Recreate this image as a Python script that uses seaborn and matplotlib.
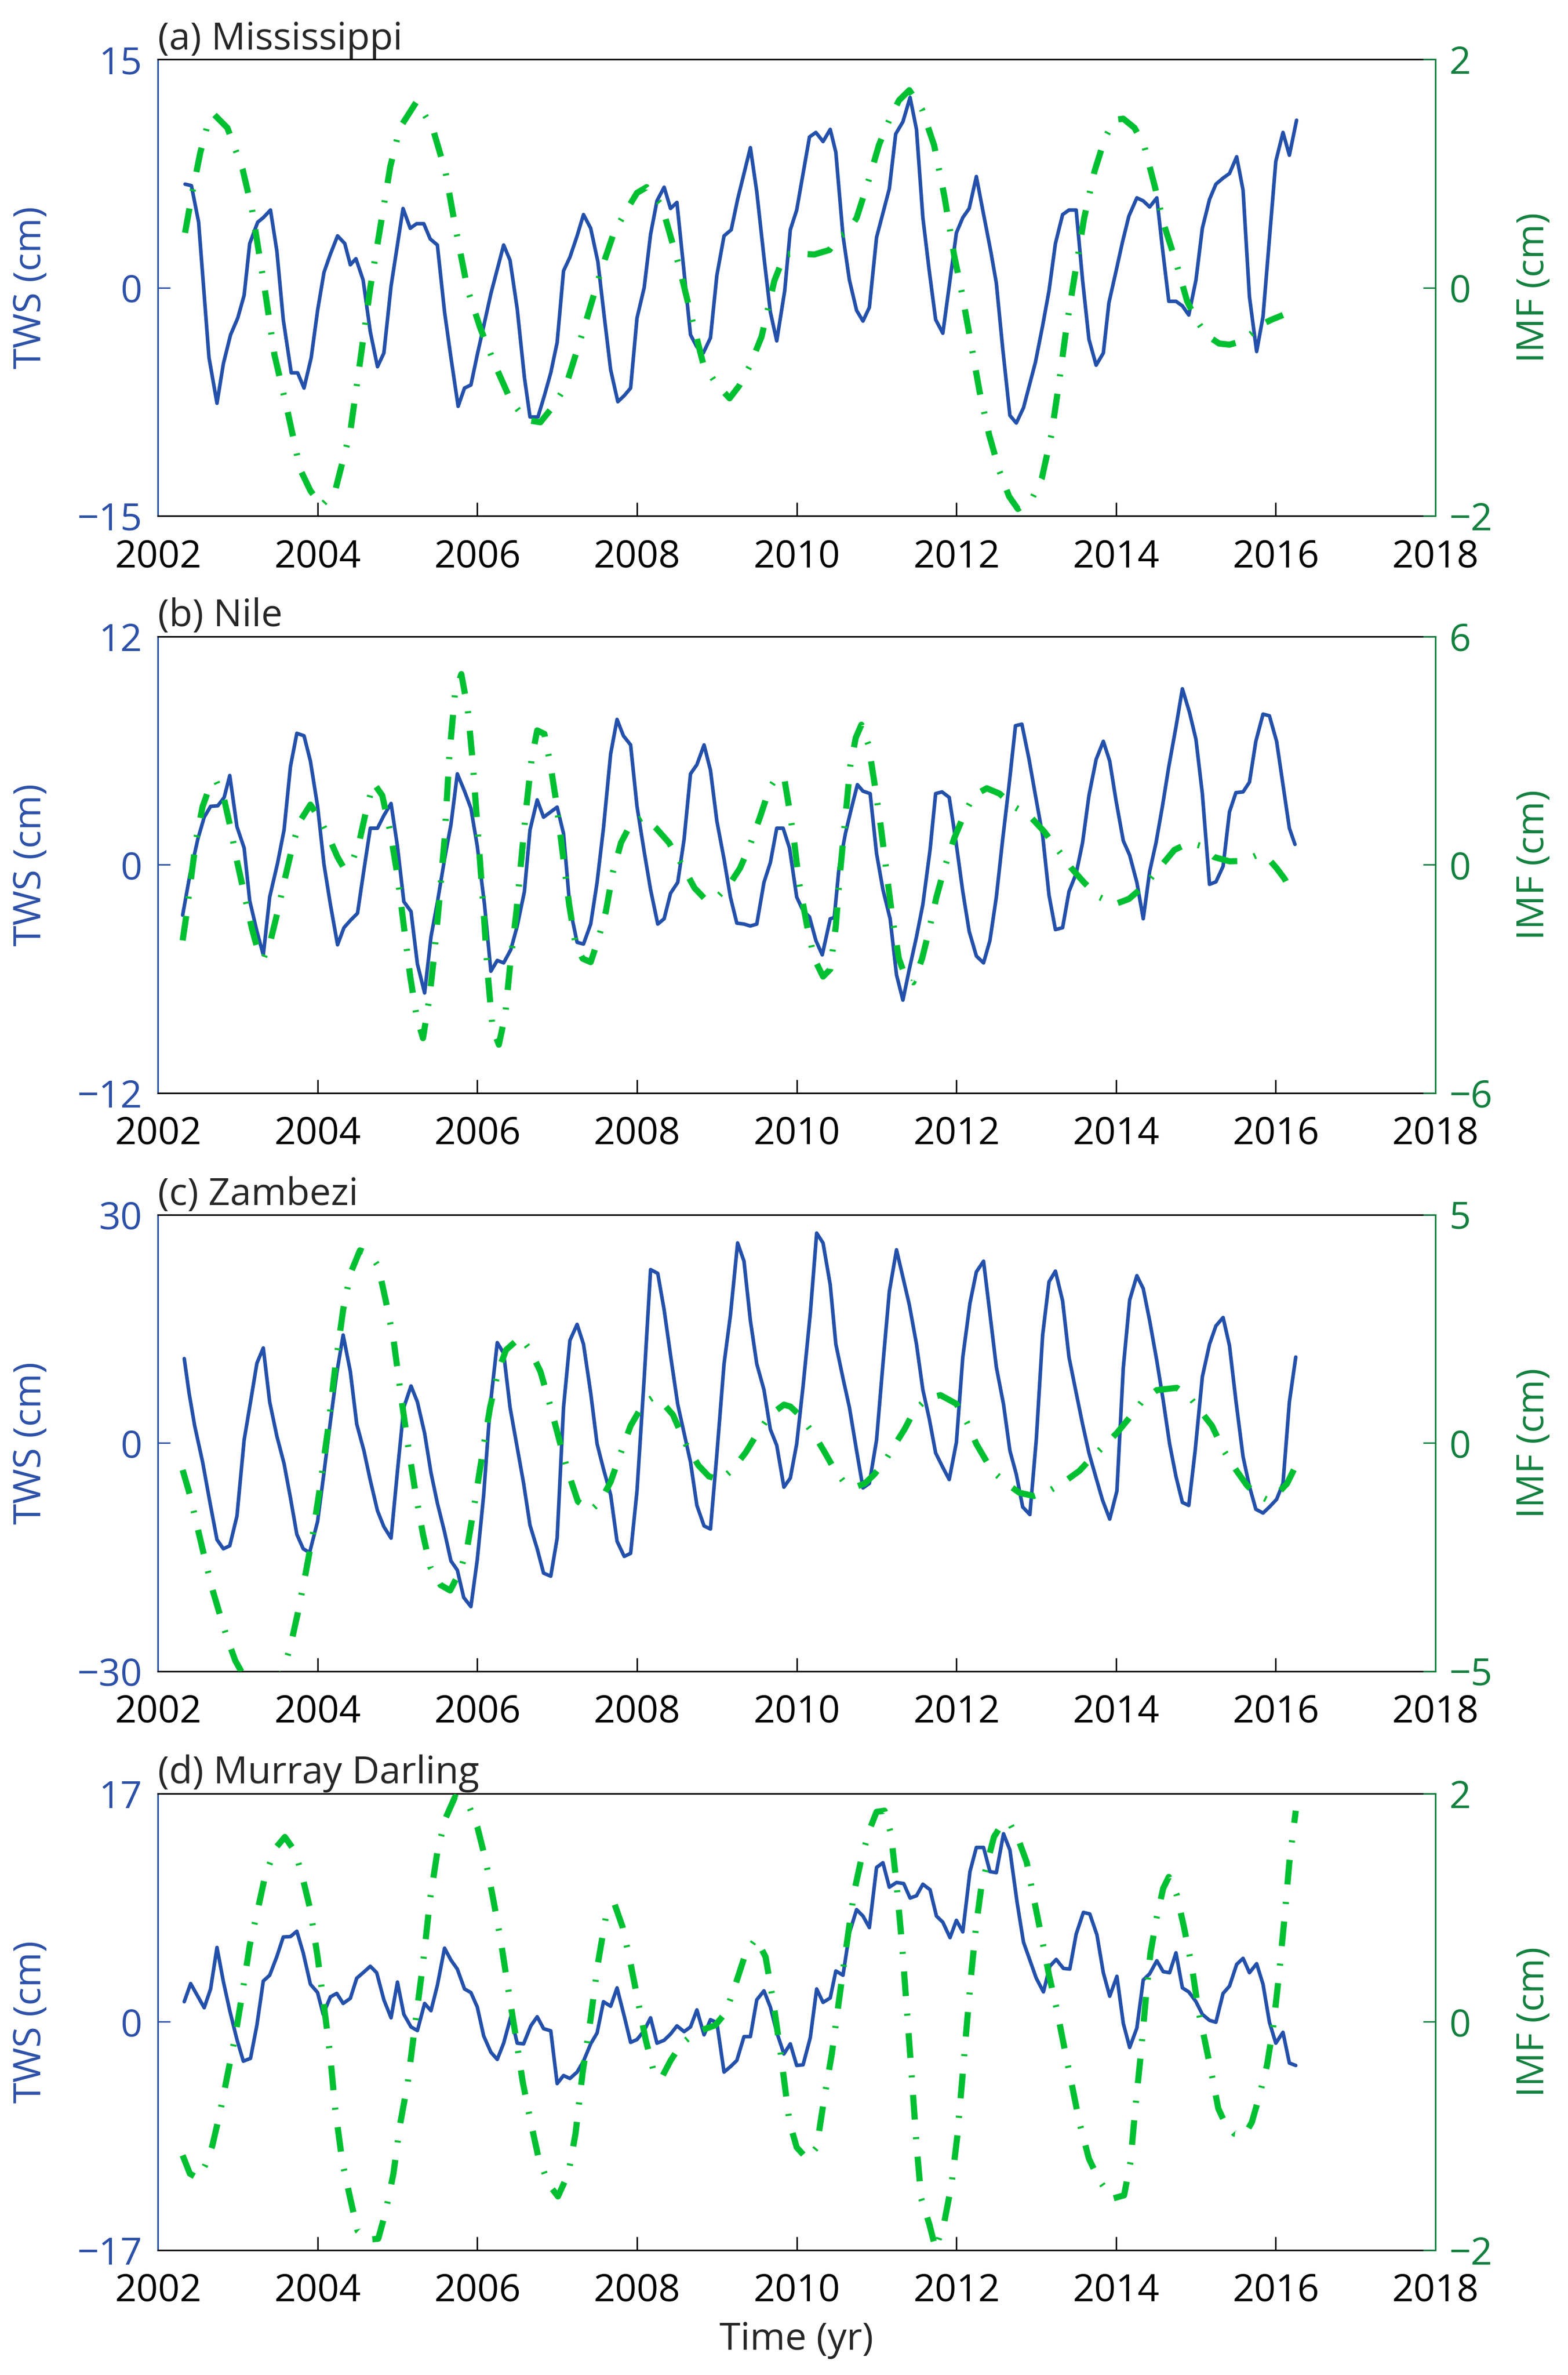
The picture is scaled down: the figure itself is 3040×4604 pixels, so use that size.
import matplotlib
matplotlib.use("Agg")
import matplotlib.pyplot as plt
import seaborn as sns

# ---- (a) Mississippi ----
miss_t = [2002.34, 2002.42, 2002.51, 2002.64, 2002.74, 2002.82, 2002.91, 2003.00, 2003.08, 2003.15,
          2003.25, 2003.32, 2003.41, 2003.49, 2003.57, 2003.67, 2003.75, 2003.83, 2003.92, 2004.00,
          2004.08, 2004.16, 2004.25, 2004.34, 2004.41, 2004.48, 2004.57, 2004.66, 2004.75, 2004.83,
          2004.92, 2005.07, 2005.16, 2005.24, 2005.33, 2005.41, 2005.50, 2005.59, 2005.67, 2005.76,
          2005.84, 2005.92, 2006.00, 2006.09, 2006.17, 2006.25, 2006.33, 2006.41, 2006.50, 2006.59,
          2006.66, 2006.76, 2006.84, 2006.92, 2007.00, 2007.08, 2007.16, 2007.25, 2007.33, 2007.42,
          2007.51, 2007.59, 2007.67, 2007.76, 2007.84, 2007.92, 2008.00, 2008.09, 2008.17, 2008.25,
          2008.34, 2008.42, 2008.50, 2008.59, 2008.67, 2008.75, 2008.83, 2008.92, 2009.00, 2009.09,
          2009.18, 2009.26, 2009.42, 2009.50, 2009.59, 2009.67, 2009.75, 2009.85, 2009.92, 2010.00,
          2010.16, 2010.24, 2010.33, 2010.42, 2010.49, 2010.58, 2010.66, 2010.75, 2010.83, 2010.91,
          2011.00, 2011.08, 2011.16, 2011.24, 2011.33, 2011.42, 2011.50, 2011.58, 2011.66, 2011.74,
          2011.83, 2012.00, 2012.08, 2012.16, 2012.25, 2012.33, 2012.43, 2012.50, 2012.58, 2012.67,
          2012.75, 2012.84, 2012.91, 2012.99, 2013.08, 2013.16, 2013.24, 2013.33, 2013.41, 2013.50,
          2013.58, 2013.66, 2013.75, 2013.84, 2013.91, 2014.00, 2014.08, 2014.16, 2014.26, 2014.34,
          2014.42, 2014.51, 2014.58, 2014.66, 2014.75, 2014.83, 2014.91, 2015.00, 2015.08, 2015.17,
          2015.25, 2015.34, 2015.42, 2015.51, 2015.59, 2015.67, 2015.76, 2015.84, 2016.00, 2016.09,
          2016.17, 2016.26]
miss_tws = [6.8, 6.7, 4.3, -4.6, -7.6, -5.0, -3.1, -2.0, -0.5, 2.9,
            4.3, 4.6, 5.1, 2.4, -2.1, -5.6, -5.6, -6.6, -4.6, -1.5,
            1.0, 2.2, 3.4, 2.9, 1.5, 1.9, 0.5, -2.9, -5.2, -4.3,
            0.1, 5.2, 3.9, 4.2, 4.2, 3.2, 2.8, -1.6, -4.6, -7.8,
            -6.6, -6.4, -4.4, -2.3, -0.4, 1.2, 2.8, 1.8, -1.4, -5.9,
            -8.5, -8.5, -7.1, -5.6, -3.6, 1.1, 2.0, 3.4, 4.8, 3.9,
            1.7, -1.9, -5.4, -7.5, -7.1, -6.6, -2.0, 0.0, 3.5, 5.7,
            6.6, 5.2, 5.6, 1.0, -3.1, -3.9, -4.3, -3.3, 0.8, 3.4,
            3.8, 5.8, 9.2, 6.3, 2.0, -1.6, -3.5, -0.2, 3.8, 5.1,
            9.9, 10.2, 9.6, 10.4, 8.9, 3.4, 0.5, -1.5, -2.2, -1.3,
            3.3, 4.9, 6.5, 10.1, 10.9, 12.5, 10.4, 4.6, 1.1, -2.1,
            -3.0, 3.6, 4.6, 5.2, 7.3, 5.1, 2.4, 0.3, -4.0, -8.4,
            -8.9, -7.9, -6.5, -4.9, -2.5, -0.2, 2.9, 4.8, 5.1, 5.1,
            0.5, -3.4, -5.1, -4.3, -1.0, 1.1, 3.0, 4.7, 5.9, 5.7,
            5.3, 5.9, 2.6, -0.9, -0.9, -1.2, -1.8, 0.5, 3.9, 5.8,
            6.8, 7.2, 7.5, 8.6, 6.4, -0.6, -4.2, -1.9, 8.3, 10.2,
            8.7, 11.0]
miss_imf_t = [2002.34, 2002.43, 2002.53, 2002.62, 2002.70, 2002.87, 2003.06, 2003.18, 2003.34, 2003.46,
              2003.62, 2003.78, 2003.91, 2004.05, 2004.22, 2004.41, 2004.53, 2004.66, 2004.79, 2004.91,
              2005.03, 2005.24, 2005.44, 2005.60, 2005.72, 2005.88, 2006.04, 2006.23, 2006.42, 2006.61,
              2006.79, 2006.95, 2007.11, 2007.33, 2007.55, 2007.71, 2007.87, 2008.00, 2008.12, 2008.31,
              2008.53, 2008.69, 2008.83, 2009.00, 2009.16, 2009.28, 2009.41, 2009.56, 2009.72, 2009.85,
              2010.00, 2010.22, 2010.41, 2010.53, 2010.63, 2010.75, 2010.91, 2011.03, 2011.16, 2011.28,
              2011.41, 2011.57, 2011.72, 2011.85, 2011.97, 2012.07, 2012.16, 2012.29, 2012.41, 2012.54,
              2012.66, 2012.77, 2012.94, 2013.07, 2013.19, 2013.29, 2013.38, 2013.48, 2013.60, 2013.73,
              2013.86, 2013.98, 2014.09, 2014.23, 2014.35, 2014.48, 2014.60, 2014.76, 2014.89, 2015.01,
              2015.14, 2015.29, 2015.42, 2015.57, 2015.70, 2015.83, 2015.95, 2016.09]
miss_imf = [0.48, 0.83, 1.18, 1.42, 1.52, 1.40, 1.04, 0.68, -0.02, -0.59,
            -1.07, -1.59, -1.78, -1.91, -1.78, -1.26, -0.66, 0.00, 0.55, 1.06,
            1.40, 1.63, 1.40, 1.02, 0.55, -0.02, -0.36, -0.69, -0.99, -1.16,
            -1.18, -1.04, -0.86, -0.37, 0.15, 0.48, 0.68, 0.83, 0.88, 0.72,
            0.18, -0.28, -0.67, -0.85, -0.97, -0.86, -0.69, -0.43, 0.06, 0.29,
            0.30, 0.29, 0.33, 0.45, 0.48, 0.61, 0.96, 1.25, 1.47, 1.64,
            1.73, 1.56, 1.25, 0.80, 0.29, -0.05, -0.40, -0.91, -1.29, -1.61,
            -1.83, -1.94, -1.86, -1.67, -1.29, -0.81, -0.34, 0.10, 0.61, 1.02,
            1.31, 1.47, 1.48, 1.40, 1.25, 0.90, 0.55, 0.20, -0.12, -0.29,
            -0.42, -0.49, -0.50, -0.47, -0.40, -0.32, -0.28, -0.24]

# ---- (b) Nile ----
nile_t = [2002.31, 2002.40, 2002.50, 2002.58, 2002.66, 2002.75, 2002.83, 2002.90, 2002.99, 2003.08,
          2003.15, 2003.24, 2003.32, 2003.40, 2003.50, 2003.58, 2003.66, 2003.74, 2003.83, 2003.91,
          2004.00, 2004.08, 2004.16, 2004.25, 2004.33, 2004.41, 2004.50, 2004.58, 2004.66, 2004.75,
          2004.83, 2004.92, 2005.00, 2005.08, 2005.17, 2005.25, 2005.34, 2005.42, 2005.50, 2005.59,
          2005.67, 2005.75, 2005.84, 2005.92, 2006.00, 2006.09, 2006.17, 2006.25, 2006.33, 2006.42,
          2006.50, 2006.59, 2006.66, 2006.75, 2006.83, 2006.92, 2007.00, 2007.08, 2007.16, 2007.25,
          2007.33, 2007.42, 2007.50, 2007.58, 2007.67, 2007.75, 2007.83, 2007.92, 2008.00, 2008.09,
          2008.17, 2008.26, 2008.34, 2008.42, 2008.51, 2008.59, 2008.67, 2008.75, 2008.84, 2008.92,
          2009.00, 2009.09, 2009.17, 2009.25, 2009.34, 2009.42, 2009.50, 2009.59, 2009.67, 2009.75,
          2009.83, 2009.91, 2010.00, 2010.08, 2010.16, 2010.24, 2010.32, 2010.42, 2010.47, 2010.53,
          2010.61, 2010.68, 2010.76, 2010.83, 2010.92, 2011.00, 2011.08, 2011.17, 2011.25, 2011.33,
          2011.41, 2011.50, 2011.58, 2011.67, 2011.74, 2011.82, 2011.91, 2011.99, 2012.08, 2012.16,
          2012.25, 2012.34, 2012.42, 2012.50, 2012.58, 2012.66, 2012.74, 2012.82, 2012.91, 2012.99,
          2013.08, 2013.16, 2013.24, 2013.33, 2013.41, 2013.50, 2013.58, 2013.66, 2013.75, 2013.84,
          2013.92, 2014.00, 2014.09, 2014.17, 2014.26, 2014.34, 2014.42, 2014.50, 2014.58, 2014.66,
          2014.75, 2014.83, 2014.92, 2015.00, 2015.08, 2015.17, 2015.25, 2015.34, 2015.42, 2015.50,
          2015.59, 2015.67, 2015.75, 2015.84, 2015.92, 2016.01, 2016.09, 2016.17, 2016.24]
nile_tws = [-2.65, -0.55, 1.35, 2.50, 3.07, 3.10, 3.54, 4.69, 2.00, 0.88,
            -1.89, -3.50, -4.74, -1.70, 0.11, 1.83, 5.16, 6.91, 6.78, 5.45,
            3.07, 0.02, -2.08, -4.21, -3.31, -2.93, -2.55, -0.27, 1.92, 1.92,
            2.59, 3.22, 0.97, -1.94, -2.46, -5.22, -6.74, -3.79, -1.98, 0.30,
            2.11, 4.78, 3.87, 2.97, 0.97, -2.08, -5.60, -5.03, -5.16, -4.46,
            -3.22, -1.41, 1.83, 3.41, 2.50, 2.78, 3.03, 1.64, -2.27, -4.08,
            -4.17, -3.12, -0.93, 1.92, 5.83, 7.64, 6.78, 6.30, 3.07, 0.69,
            -1.31, -3.12, -2.84, -1.50, -0.93, 1.35, 4.78, 5.26, 6.30, 4.97,
            2.30, 0.30, -1.70, -3.07, -3.12, -3.22, -3.12, -0.93, 0.11, 1.92,
            1.92, 0.88, -1.70, -2.42, -2.74, -3.98, -4.74, -2.84, -2.78, -0.17,
            1.64, 2.88, 4.21, 3.87, 3.74, 0.59, -1.31, -2.84, -5.79, -7.12,
            -5.50, -3.79, -2.08, 0.78, 3.74, 3.83, 3.54, 1.35, -1.41, -3.50,
            -4.80, -5.16, -3.98, -1.70, 1.35, 4.21, 7.31, 7.39, 5.54, 3.64,
            1.54, -1.60, -3.41, -3.31, -1.41, -0.46, 1.16, 3.64, 5.54, 6.49,
            5.45, 3.35, 1.26, 0.50, -0.93, -2.84, -0.36, 1.16, 3.07, 5.16,
            7.25, 9.25, 8.00, 6.59, 3.74, -1.03, -0.90, -0.08, 2.78, 3.79,
            3.83, 4.34, 6.49, 7.92, 7.83, 6.49, 4.21, 1.92, 1.07]
nile_imf_t = [2002.31, 2002.35, 2002.42, 2002.48, 2002.56, 2002.65, 2002.73, 2002.83, 2002.90, 2002.99,
              2003.09, 2003.18, 2003.25, 2003.32, 2003.40, 2003.50, 2003.59, 2003.69, 2003.78, 2003.91,
              2004.03, 2004.16, 2004.25, 2004.33, 2004.43, 2004.52, 2004.61, 2004.70, 2004.81, 2004.91,
              2005.00, 2005.08, 2005.16, 2005.24, 2005.32, 2005.40, 2005.46, 2005.52, 2005.59, 2005.65,
              2005.72, 2005.80, 2005.88, 2005.94, 2006.00, 2006.07, 2006.13, 2006.19, 2006.27, 2006.35,
              2006.41, 2006.49, 2006.55, 2006.61, 2006.68, 2006.75, 2006.84, 2006.92, 2006.99, 2007.07,
              2007.15, 2007.23, 2007.32, 2007.42, 2007.51, 2007.61, 2007.70, 2007.80, 2007.92, 2008.08,
              2008.24, 2008.40, 2008.56, 2008.72, 2008.87, 2009.03, 2009.16, 2009.29, 2009.41, 2009.54,
              2009.66, 2009.76, 2009.85, 2009.91, 2009.97, 2010.03, 2010.13, 2010.22, 2010.33, 2010.42,
              2010.49, 2010.54, 2010.61, 2010.67, 2010.74, 2010.81, 2010.90, 2010.97, 2011.05, 2011.13,
              2011.20, 2011.28, 2011.36, 2011.46, 2011.57, 2011.66, 2011.75, 2011.85, 2011.97, 2012.10,
              2012.22, 2012.38, 2012.54, 2012.72, 2012.91, 2013.10, 2013.29, 2013.44, 2013.60, 2013.79,
              2013.98, 2014.16, 2014.35, 2014.54, 2014.73, 2014.92, 2015.07, 2015.23, 2015.42, 2015.60,
              2015.76, 2015.89, 2016.01, 2016.11, 2016.20]
nile_imf = [-1.99, -1.42, -0.28, 0.68, 1.53, 2.06, 2.20, 1.72, 1.06, 0.10,
            -0.85, -1.70, -2.23, -2.47, -2.09, -1.23, -0.37, 0.53, 1.15, 1.58,
            1.20, 0.63, 0.20, -0.09, 0.06, 0.58, 1.44, 2.15, 1.82, 0.87,
            -0.28, -1.61, -2.94, -3.99, -4.56, -3.51, -2.37, -1.04, 0.68, 2.87,
            4.49, 5.01, 4.10, 2.77, 1.06, -0.94, -2.85, -4.28, -4.73, -3.94,
            -2.66, -1.23, 0.10, 1.44, 2.77, 3.53, 3.44, 2.58, 1.63, 0.30,
            -1.04, -2.09, -2.47, -2.56, -1.99, -1.23, -0.18, 0.58, 1.06, 1.25,
            0.96, 0.58, 0.01, -0.61, -0.94, -0.80, -0.51, -0.09, 0.49, 1.25,
            2.01, 2.34, 2.20, 1.44, 0.58, -0.47, -1.61, -2.47, -2.94, -2.75,
            -1.61, -0.28, 1.25, 2.58, 3.34, 3.68, 3.15, 2.20, 1.06, -0.28,
            -1.42, -2.47, -2.94, -3.09, -2.47, -1.70, -0.85, -0.09, 0.68, 1.34,
            1.82, 2.01, 1.87, 1.53, 1.30, 0.87, 0.34, -0.09, -0.47, -0.85,
            -1.04, -0.90, -0.56, -0.09, 0.39, 0.58, 0.49, 0.20, 0.09, 0.10,
            0.25, 0.20, -0.09, -0.37, -0.75]

# ---- (c) Zambezi ----
zamb_t = [2002.33, 2002.39, 2002.46, 2002.56, 2002.65, 2002.74, 2002.82, 2002.90, 2002.99, 2003.08,
          2003.16, 2003.24, 2003.32, 2003.40, 2003.49, 2003.58, 2003.66, 2003.74, 2003.82, 2003.90,
          2004.00, 2004.08, 2004.16, 2004.24, 2004.32, 2004.41, 2004.49, 2004.58, 2004.66, 2004.75,
          2004.83, 2004.92, 2005.00, 2005.08, 2005.17, 2005.25, 2005.34, 2005.42, 2005.50, 2005.59,
          2005.67, 2005.75, 2005.83, 2005.92, 2006.00, 2006.08, 2006.16, 2006.25, 2006.33, 2006.41,
          2006.50, 2006.58, 2006.66, 2006.75, 2006.83, 2006.92, 2007.00, 2007.08, 2007.16, 2007.25,
          2007.33, 2007.42, 2007.50, 2007.58, 2007.67, 2007.75, 2007.84, 2007.92, 2008.00, 2008.09,
          2008.17, 2008.26, 2008.34, 2008.43, 2008.51, 2008.59, 2008.67, 2008.75, 2008.84, 2008.92,
          2009.00, 2009.09, 2009.17, 2009.26, 2009.34, 2009.42, 2009.50, 2009.59, 2009.67, 2009.75,
          2009.84, 2009.92, 2010.00, 2010.08, 2010.17, 2010.25, 2010.33, 2010.42, 2010.49, 2010.58,
          2010.66, 2010.75, 2010.83, 2010.91, 2011.00, 2011.08, 2011.16, 2011.25, 2011.33, 2011.41,
          2011.50, 2011.58, 2011.66, 2011.74, 2011.83, 2011.91, 2012.00, 2012.08, 2012.17, 2012.25,
          2012.34, 2012.42, 2012.50, 2012.59, 2012.67, 2012.75, 2012.83, 2012.92, 2013.00, 2013.08,
          2013.16, 2013.24, 2013.33, 2013.41, 2013.50, 2013.58, 2013.66, 2013.75, 2013.83, 2013.92,
          2014.01, 2014.09, 2014.17, 2014.26, 2014.34, 2014.42, 2014.51, 2014.59, 2014.67, 2014.75,
          2014.83, 2014.91, 2014.99, 2015.08, 2015.17, 2015.25, 2015.34, 2015.42, 2015.50, 2015.59,
          2015.67, 2015.75, 2015.84, 2015.92, 2016.01, 2016.09, 2016.17, 2016.25]
zamb_tws = [11.1, 6.6, 2.3, -2.5, -7.7, -12.7, -13.9, -13.5, -9.6, 0.4,
            5.4, 10.5, 12.5, 5.4, 0.9, -2.7, -7.2, -12.0, -13.9, -14.4,
            -10.3, -3.9, 2.8, 9.2, 14.2, 9.4, 2.5, -1.0, -4.9, -8.9,
            -11.0, -12.5, -3.7, 4.7, 7.5, 5.4, 1.3, -3.9, -7.9, -11.7,
            -15.5, -16.7, -20.3, -21.5, -15.3, -6.8, 4.7, 13.2, 11.8, 4.7,
            -0.6, -5.3, -10.8, -13.9, -17.1, -17.5, -12.5, 4.7, 13.5, 15.6,
            13.0, 6.6, -0.1, -3.4, -6.8, -12.9, -14.9, -14.5, -6.3, 8.5,
            22.8, 22.3, 17.5, 10.8, 5.1, 1.3, -2.5, -8.2, -10.9, -11.3,
            -1.5, 10.4, 16.8, 26.3, 23.9, 16.1, 10.4, 7.0, 1.8, -0.3,
            -5.8, -4.6, -0.1, 7.5, 17.0, 27.6, 26.3, 20.8, 13.0, 8.5,
            4.7, -1.0, -5.9, -5.3, 0.4, 10.4, 19.9, 25.4, 21.8, 18.2,
            13.0, 7.0, 3.2, -1.3, -3.2, -4.8, 0.1, 11.3, 18.4, 22.5,
            23.9, 17.0, 10.0, 5.1, -1.0, -4.1, -8.4, -9.4, 0.4, 14.2,
            21.2, 22.6, 18.7, 11.3, 6.6, 2.5, -1.3, -4.6, -7.5, -10.0,
            -6.3, 9.9, 18.8, 22.0, 20.3, 16.1, 10.8, 5.6, -0.1, -4.4,
            -7.8, -8.2, -1.0, 8.7, 13.0, 15.4, 16.5, 12.8, 5.6, -1.8,
            -5.7, -8.7, -9.2, -8.4, -7.4, -5.3, 5.4, 11.3]
zamb_imf_t = [2002.31, 2002.40, 2002.50, 2002.59, 2002.68, 2002.78, 2002.87, 2002.97, 2003.06, 2003.15,
              2003.31, 2003.47, 2003.57, 2003.66, 2003.75, 2003.84, 2003.94, 2004.03, 2004.13, 2004.22,
              2004.32, 2004.41, 2004.53, 2004.66, 2004.76, 2004.85, 2004.95, 2005.04, 2005.13, 2005.23,
              2005.32, 2005.41, 2005.54, 2005.66, 2005.79, 2005.88, 2005.97, 2006.07, 2006.16, 2006.26,
              2006.36, 2006.54, 2006.66, 2006.79, 2006.92, 2007.04, 2007.14, 2007.26, 2007.42, 2007.54,
              2007.67, 2007.79, 2007.92, 2008.08, 2008.20, 2008.33, 2008.45, 2008.61, 2008.77, 2008.90,
              2009.05, 2009.20, 2009.36, 2009.51, 2009.67, 2009.84, 2009.92, 2010.03, 2010.22, 2010.34,
              2010.47, 2010.59, 2010.72, 2010.85, 2010.97, 2011.10, 2011.22, 2011.35, 2011.47, 2011.63,
              2011.80, 2012.00, 2012.13, 2012.25, 2012.38, 2012.50, 2012.63, 2012.79, 2012.97, 2013.16,
              2013.35, 2013.54, 2013.69, 2013.85, 2014.01, 2014.16, 2014.32, 2014.51, 2014.76, 2014.92,
              2015.04, 2015.20, 2015.35, 2015.51, 2015.64, 2015.76, 2015.89, 2016.01, 2016.14, 2016.23]
zamb_imf = [-0.59, -1.13, -1.88, -2.55, -3.19, -3.78, -4.29, -4.77, -5.05, -5.30,
            -5.50, -5.30, -4.97, -4.45, -3.74, -2.95, -2.00, -0.97, 0.30, 1.65,
            2.92, 3.71, 4.22, 4.14, 3.87, 3.15, 2.28, 1.09, -0.02, -1.13,
            -2.00, -2.71, -3.11, -3.23, -2.79, -2.23, -1.28, -0.17, 0.78, 1.57,
            2.04, 2.32, 2.04, 1.57, 0.78, -0.02, -0.65, -1.28, -1.48, -1.28,
            -0.85, -0.25, 0.38, 0.86, 1.00, 0.86, 0.62, -0.02, -0.49, -0.73,
            -0.81, -0.57, -0.21, 0.22, 0.62, 0.84, 0.80, 0.62, 0.18, -0.17,
            -0.57, -0.85, -0.97, -0.89, -0.69, -0.41, -0.06, 0.30, 0.70, 0.97,
            1.05, 0.86, 0.46, -0.02, -0.41, -0.69, -0.89, -1.09, -1.16, -1.05,
            -0.85, -0.61, -0.33, -0.06, 0.22, 0.54, 0.90, 1.16, 1.21, 1.01,
            0.74, 0.38, -0.17, -0.61, -0.93, -1.13, -1.24, -1.13, -0.89, -0.57]

# ---- (d) Murray Darling ----
murr_t = [2002.33, 2002.41, 2002.50, 2002.58, 2002.66, 2002.74, 2002.82, 2002.90, 2002.99, 2003.07,
          2003.16, 2003.24, 2003.32, 2003.40, 2003.49, 2003.57, 2003.66, 2003.74, 2003.82, 2003.91,
          2004.00, 2004.07, 2004.16, 2004.24, 2004.32, 2004.41, 2004.49, 2004.57, 2004.66, 2004.74,
          2004.83, 2004.92, 2005.00, 2005.08, 2005.17, 2005.25, 2005.34, 2005.42, 2005.50, 2005.59,
          2005.67, 2005.75, 2005.84, 2005.92, 2006.00, 2006.08, 2006.17, 2006.25, 2006.33, 2006.42,
          2006.50, 2006.58, 2006.67, 2006.75, 2006.83, 2006.92, 2007.00, 2007.08, 2007.16, 2007.25,
          2007.33, 2007.42, 2007.50, 2007.58, 2007.67, 2007.75, 2007.84, 2007.92, 2008.00, 2008.09,
          2008.17, 2008.25, 2008.34, 2008.42, 2008.50, 2008.59, 2008.67, 2008.75, 2008.84, 2008.92,
          2009.00, 2009.09, 2009.17, 2009.25, 2009.34, 2009.42, 2009.50, 2009.59, 2009.67, 2009.75,
          2009.84, 2009.92, 2010.00, 2010.08, 2010.17, 2010.25, 2010.33, 2010.42, 2010.49, 2010.58,
          2010.66, 2010.75, 2010.83, 2010.91, 2011.00, 2011.08, 2011.16, 2011.25, 2011.34, 2011.42,
          2011.50, 2011.58, 2011.67, 2011.75, 2011.83, 2011.92, 2012.00, 2012.08, 2012.17, 2012.25,
          2012.34, 2012.42, 2012.50, 2012.59, 2012.67, 2012.76, 2012.84, 2012.92, 2013.00, 2013.09,
          2013.17, 2013.25, 2013.34, 2013.42, 2013.50, 2013.59, 2013.67, 2013.76, 2013.84, 2013.92,
          2014.01, 2014.09, 2014.17, 2014.26, 2014.34, 2014.42, 2014.51, 2014.59, 2014.67, 2014.75,
          2014.83, 2014.91, 2015.00, 2015.08, 2015.17, 2015.25, 2015.34, 2015.42, 2015.51, 2015.59,
          2015.67, 2015.76, 2015.84, 2015.92, 2016.00, 2016.09, 2016.17, 2016.25]
murr_tws = [1.50, 2.85, 1.90, 1.05, 2.45, 5.54, 3.00, 0.83, -1.32, -2.93,
            -2.72, -0.24, 3.04, 3.47, 4.87, 6.32, 6.35, 6.75, 5.14, 2.80,
            2.18, 0.56, 1.86, 2.12, 1.37, 1.75, 3.25, 3.66, 4.14, 3.66,
            1.64, 0.30, 2.96, 0.56, -0.38, -0.65, 1.37, 0.83, 2.72, 5.49,
            4.60, 3.93, 2.45, 2.18, 1.10, -1.05, -2.26, -2.80, -1.59, 0.38,
            -1.59, -1.64, -0.30, 0.38, -0.51, -0.67, -4.60, -4.00, -4.22, -3.74,
            -2.93, -1.64, -0.83, 1.50, 1.16, 2.53, 0.43, -1.53, -1.32, -0.65,
            0.30, -1.59, -1.37, -0.91, -0.30, -0.73, -0.38, 0.89, -0.97, 0.16,
            -0.05, -3.74, -3.34, -2.88, -1.10, -1.10, 1.64, 2.31, 1.10, -0.78,
            -2.39, -1.64, -3.25, -3.20, -1.18, 2.45, 1.45, 1.78, 3.79, 3.47,
            6.62, 8.36, 7.88, 7.02, 11.50, 11.85, 10.03, 10.38, 10.30, 9.22,
            9.39, 10.25, 9.84, 7.88, 7.42, 6.27, 7.56, 6.70, 11.19, 12.99,
            12.99, 11.19, 11.11, 14.01, 12.80, 8.90, 5.94, 4.60, 3.25, 2.23,
            4.14, 4.65, 3.98, 3.93, 6.54, 8.15, 8.04, 6.48, 3.66, 1.91,
            3.39, -0.11, -1.91, -0.46, 3.12, 3.58, 4.55, 3.74, 3.66, 5.14,
            2.53, 2.23, 1.51, 0.56, 0.11, -0.03, 2.12, 2.66, 4.28, 4.73,
            3.66, 4.33, 2.80, -0.03, -1.59, -0.78, -3.07, -3.25]
murr_imf_t = [2002.31, 2002.40, 2002.50, 2002.59, 2002.68, 2002.78, 2002.87, 2002.97, 2003.06, 2003.15,
              2003.25, 2003.34, 2003.47, 2003.59, 2003.72, 2003.81, 2003.91, 2004.00, 2004.10, 2004.16,
              2004.22, 2004.31, 2004.41, 2004.50, 2004.63, 2004.76, 2004.85, 2004.95, 2005.03, 2005.13,
              2005.22, 2005.32, 2005.41, 2005.50, 2005.60, 2005.72, 2005.88, 2006.00, 2006.10, 2006.19,
              2006.29, 2006.38, 2006.48, 2006.57, 2006.67, 2006.76, 2006.89, 2007.01, 2007.14, 2007.23,
              2007.32, 2007.42, 2007.51, 2007.61, 2007.72, 2007.82, 2007.92, 2008.01, 2008.11, 2008.20,
              2008.30, 2008.42, 2008.55, 2008.70, 2008.86, 2008.98, 2009.11, 2009.23, 2009.36, 2009.49,
              2009.61, 2009.71, 2009.80, 2009.91, 2010.00, 2010.13, 2010.25, 2010.34, 2010.44, 2010.53,
              2010.63, 2010.72, 2010.81, 2010.91, 2011.00, 2011.10, 2011.18, 2011.25, 2011.32, 2011.38,
              2011.44, 2011.50, 2011.56, 2011.66, 2011.74, 2011.85, 2011.94, 2012.01, 2012.07, 2012.13,
              2012.19, 2012.25, 2012.31, 2012.40, 2012.47, 2012.55, 2012.66, 2012.78, 2012.88, 2012.97,
              2013.07, 2013.16, 2013.26, 2013.35, 2013.44, 2013.54, 2013.66, 2013.79, 2013.95, 2014.10,
              2014.18, 2014.24, 2014.31, 2014.37, 2014.43, 2014.51, 2014.59, 2014.66, 2014.76, 2014.85,
              2014.95, 2015.03, 2015.11, 2015.20, 2015.28, 2015.36, 2015.48, 2015.61, 2015.70, 2015.79,
              2015.89, 2015.97, 2016.04, 2016.11, 2016.17, 2016.25]
murr_imf = [-1.17, -1.33, -1.37, -1.26, -1.09, -0.79, -0.47, -0.12, 0.26, 0.67,
            0.98, 1.27, 1.52, 1.62, 1.49, 1.27, 0.98, 0.57, 0.03, -0.31,
            -0.76, -1.23, -1.55, -1.83, -1.91, -1.90, -1.67, -1.33, -0.91, -0.53,
            -0.03, 0.51, 1.08, 1.49, 1.78, 1.97, 1.92, 1.71, 1.43, 1.11,
            0.73, 0.32, -0.12, -0.53, -0.88, -1.17, -1.42, -1.53, -1.33, -0.98,
            -0.44, 0.03, 0.51, 0.92, 1.03, 0.83, 0.51, 0.19, -0.16, -0.41,
            -0.50, -0.34, -0.20, -0.11, -0.06, -0.03, 0.08, 0.32, 0.60, 0.73,
            0.57, 0.16, -0.28, -0.88, -1.10, -1.20, -1.10, -0.69, -0.28, 0.19,
            0.70, 1.14, 1.43, 1.68, 1.84, 1.85, 1.65, 1.21, 0.67, 0.10,
            -0.47, -1.07, -1.55, -1.77, -1.99, -1.75, -1.42, -1.01, -0.53, -0.03,
            0.45, 0.86, 1.17, 1.43, 1.62, 1.71, 1.75, 1.59, 1.40, 1.08,
            0.73, 0.41, 0.10, -0.22, -0.53, -0.88, -1.20, -1.39, -1.55, -1.52,
            -1.23, -0.76, -0.28, 0.19, 0.60, 0.92, 1.17, 1.27, 1.11, 0.83,
            0.48, 0.10, -0.16, -0.47, -0.76, -0.88, -0.98, -0.99, -0.88, -0.66,
            -0.38, -0.03, 0.41, 0.92, 1.40, 1.85]

titles = ["(a) Mississippi", "(b) Nile", "(c) Zambezi", "(d) Murray Darling"]
tws_lims = [15, 12, 30, 17]
imf_lims = [2, 6, 5, 2]
years = list(range(2002, 2019, 2))

sns.set_theme(style="white")
plt.rcParams["font.family"] = ["Open Sans", "DejaVu Sans"]
plt.rcParams["lines.scale_dashes"] = False
plt.rcParams["axes.unicode_minus"] = True

blue = "#2350AA"
blue_txt = "#2C50A8"
green = "#00C032"
green_ax = "#12803E"
fs = 53

fig = plt.figure(figsize=(30.4, 46.04), dpi=100)
fig.patch.set_facecolor("white")

series = [
    (miss_t, miss_tws, miss_imf_t, miss_imf),
    (nile_t, nile_tws, nile_imf_t, nile_imf),
    (zamb_t, zamb_tws, zamb_imf_t, zamb_imf),
    (murr_t, murr_tws, murr_imf_t, murr_imf),
]
bottoms = [0.7828, 0.5398, 0.2963, 0.0526]

for i, (t, tws, ti, imf) in enumerate(series):
    ax = fig.add_axes([0.1007, bottoms[i], 0.8148, 0.1922])
    sns.lineplot(x=t, y=tws, ax=ax, color=blue, linewidth=5, sort=False, estimator=None)
    ax.set_xlim(2002, 2018)
    ax.set_ylim(-tws_lims[i], tws_lims[i])
    ax.set_xticks(years)
    ax.set_yticks([-tws_lims[i], 0, tws_lims[i]])
    ax.tick_params(axis="x", direction="in", length=19, width=2, pad=31, labelsize=fs,
                   colors="black", bottom=True, top=False)
    ax.tick_params(axis="y", direction="in", length=17, width=2, pad=22, labelsize=fs,
                   colors=blue_txt, left=True, right=False)
    for s in ["top", "bottom"]:
        ax.spines[s].set_color("black")
        ax.spines[s].set_linewidth(2.2)
    ax.spines["left"].set_color(blue)
    ax.spines["left"].set_linewidth(2.2)
    ax.spines["right"].set_visible(False)
    ax.set_ylabel("TWS (cm)", color=blue_txt, fontsize=fs)
    ax.yaxis.set_label_coords(-0.0844, 0.5)
    ax.set_title(titles[i], loc="left", fontsize=fs, pad=14)
    if i == 3:
        ax.set_xlabel("Time (yr)", fontsize=fs)
        ax.xaxis.set_label_coords(0.5, -0.155)
    else:
        ax.set_xlabel("")

    ax2 = ax.twinx()
    sns.lineplot(x=ti, y=imf, ax=ax2, color=green, linewidth=8.6,
                 linestyle=(0, (34.5, 24.5, 2.9, 24.5)), sort=False, estimator=None)
    ax2.set_ylim(-imf_lims[i], imf_lims[i])
    ax2.set_yticks([-imf_lims[i], 0, imf_lims[i]])
    ax2.tick_params(axis="y", direction="in", length=17, width=2, pad=19, labelsize=fs,
                    colors=green_ax, right=True, left=False)
    for s in ["top", "bottom", "left"]:
        ax2.spines[s].set_visible(False)
    ax2.spines["right"].set_color(green_ax)
    ax2.spines["right"].set_linewidth(2.2)
    ax2.set_ylabel("IMF (cm)", color=green_ax, fontsize=fs)
    ax2.yaxis.set_label_coords(1.0622, 0.5)

fig.savefig("out.png", dpi=100, facecolor="white")
